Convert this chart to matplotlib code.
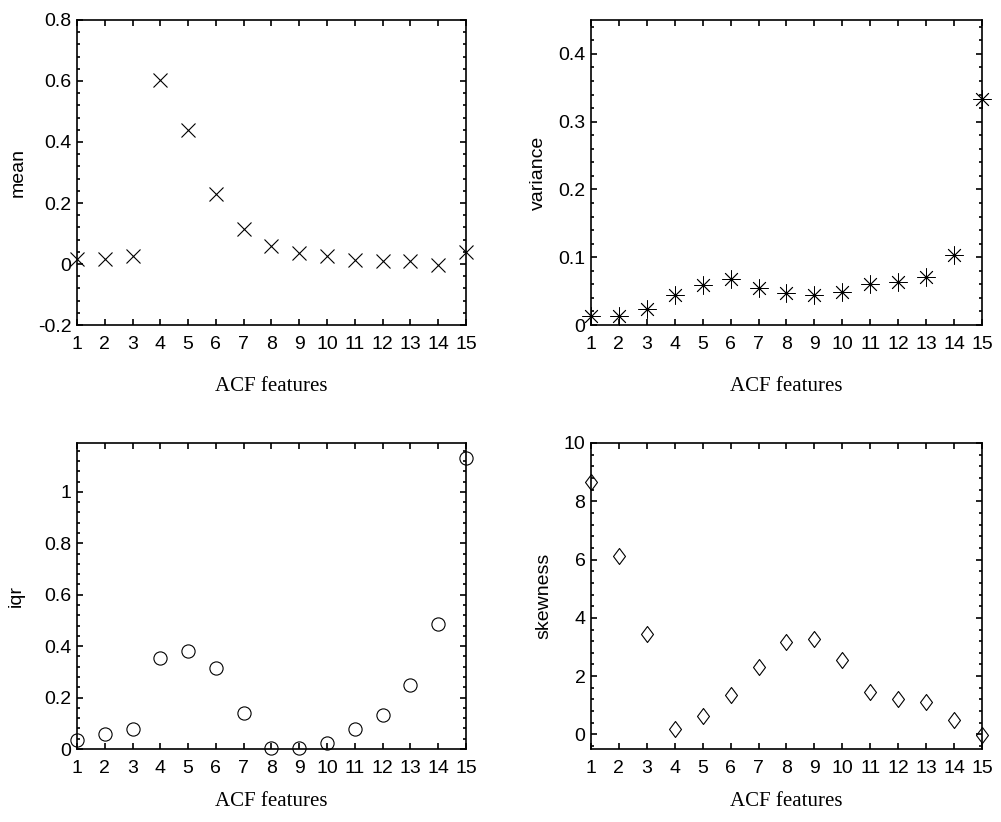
import numpy as np
import matplotlib
matplotlib.use("Agg")
import matplotlib.pyplot as plt
from matplotlib.ticker import MultipleLocator, AutoMinorLocator, FuncFormatter
from matplotlib.path import Path

# ACF feature index
features = list(range(1, 16))

# Per-feature statistics
mean_vals = [0.016, 0.015, 0.025, 0.604, 0.44, 0.228, 0.116, 0.06, 0.036,
             0.027, 0.014, 0.01, 0.01, -0.003, 0.038]
variance_vals = [0.013, 0.014, 0.023, 0.044, 0.059, 0.068, 0.055, 0.047,
                 0.044, 0.048, 0.06, 0.063, 0.071, 0.104, 0.333]
iqr_vals = [0.036, 0.06, 0.078, 0.352, 0.382, 0.316, 0.141, 0.004, 0.004,
            0.023, 0.078, 0.134, 0.249, 0.486, 1.13]
skewness_vals = [8.65, 6.11, 3.45, 0.19, 0.63, 1.37, 2.32, 3.18, 3.28, 2.54,
                 1.47, 1.22, 1.11, 0.51, -0.02]

SANS = "Liberation Sans"
SERIF = "Liberation Serif"

# Narrow diamond outline
diamond = Path([(0, 1), (0.75, 0), (0, -1), (-0.75, 0), (0, 1)],
               [Path.MOVETO, Path.LINETO, Path.LINETO, Path.LINETO, Path.CLOSEPOLY])

fig = plt.figure(figsize=(10.01, 8.22), dpi=100)

panels = [
    # (rect, values, marker, marker size, edge width, ylabel, ylim, step, ylabel pad, xlabel pad)
    ([0.0769, 0.6046, 0.3886, 0.3711], mean_vals, "x", 10, 0.8, "mean", (-0.2, 0.8), 0.2, 8, 17),
    ([0.5904, 0.6046, 0.3906, 0.3711], variance_vals, (8, 2, 0), 13, 0.6, "variance", (0, 0.45), 0.1, 8, 17),
    ([0.0769, 0.0888, 0.3886, 0.3723], iqr_vals, "o", 9.5, 0.8, "iqr", (0, 1.19), 0.2, 14, 11),
    ([0.5904, 0.0888, 0.3906, 0.3723], skewness_vals, diamond, 11.5, 0.8, "skewness", (-0.5, 10), 2, 8, 11),
]

for rect, vals, marker, ms, mew, ylab, ylim, step, ypad, xpad in panels:
    ax = fig.add_axes(rect)
    ax.plot(features, vals, linestyle="none", marker=marker, markersize=ms,
            markerfacecolor="none", markeredgecolor="black",
            markeredgewidth=mew, clip_on=False)

    ax.set_xlim(1, 15)
    ax.set_ylim(*ylim)
    ax.set_xticks(features)
    ax.yaxis.set_major_locator(MultipleLocator(step))
    ax.yaxis.set_minor_locator(AutoMinorLocator(5))
    ax.yaxis.set_major_formatter(FuncFormatter(lambda v, p: "%g" % round(v, 6)))

    ax.tick_params(axis="both", which="both", direction="in",
                   top=True, right=True, color="black")
    ax.tick_params(axis="both", which="major", length=4, width=1.2)
    ax.tick_params(axis="both", which="minor", length=2.5, width=1.2)
    ax.tick_params(axis="x", which="minor", top=False, bottom=False)
    ax.tick_params(axis="x", which="major", pad=8)
    ax.tick_params(axis="y", which="major", pad=4)

    for lbl in ax.get_xticklabels() + ax.get_yticklabels():
        lbl.set_fontfamily(SANS)
        lbl.set_fontsize(14)

    for spine in ax.spines.values():
        spine.set_linewidth(1.2)

    ax.set_ylabel(ylab, fontfamily=SANS, fontsize=14, labelpad=ypad)
    ax.set_xlabel("ACF features", fontfamily=SERIF, fontsize=15, labelpad=xpad)

fig.savefig("out.png", dpi=100, facecolor="white")
